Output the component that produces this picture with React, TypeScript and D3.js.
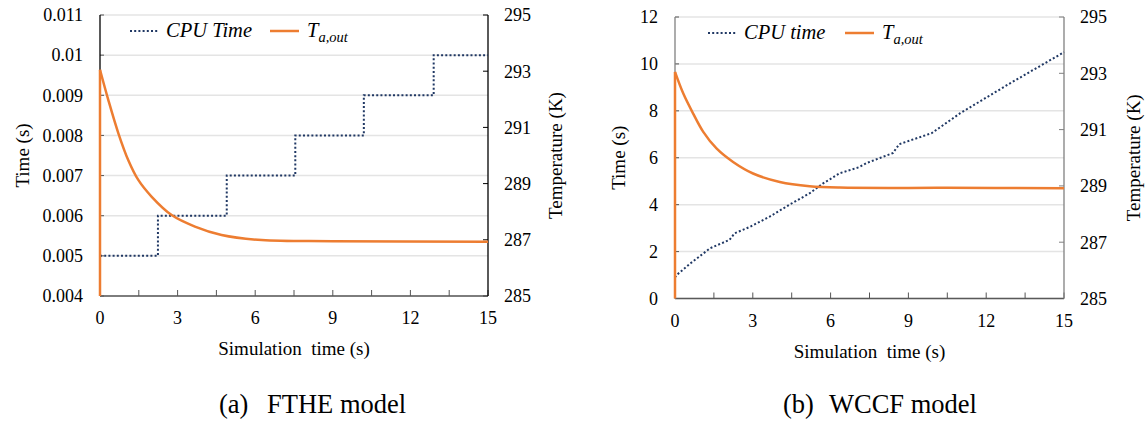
import React from "react";
import * as d3 from "d3";

const W = 1146;
const H = 427;
const tf = { fontFamily: "'Liberation Serif'" };

const orange = "#ED7D31";
const navy = "#203864";
const grid = "#e4e4e4";

// x axis: simulation time (s)
const xTicksMinor = [0, 1.5, 3, 4.5, 6, 7.5, 9, 10.5, 12, 13.5, 15];
const xTickLabels = [0, 3, 6, 9, 12, 15];
const tempTicks = [285, 287, 289, 291, 293, 295];

// (a) FTHE model
const ftheTimeTicks = [0.004, 0.005, 0.006, 0.007, 0.008, 0.009, 0.01, 0.011];
const ftheCpuT = [0, 2.24, 4.9, 7.55, 10.2, 12.9, 15];
const ftheCpuV = [0.005, 0.006, 0.007, 0.008, 0.009, 0.01, 0.01];
const ftheTempT = [0, 0.32, 0.71, 1.09, 1.48, 2.0, 2.77, 3.67, 4.7, 6.25, 9, 15];
const ftheTempV = [293.05, 291.98, 290.79, 289.84, 289.13, 288.53, 287.88, 287.47, 287.17, 286.99, 286.95, 286.93];

// (b) WCCF model
const wccfTimeTicks = [0, 2, 4, 6, 8, 10, 12];
const wccfCpuT = [0, 0.06, 0.6, 1.35, 2.1, 2.3, 2.9, 3.65, 4.4, 5.2, 5.7, 6.35, 7.1, 7.4, 8.4, 8.65, 9.9, 11.0, 12.9, 15];
const wccfCpuV = [0.9, 1.0, 1.5, 2.14, 2.5, 2.78, 3.06, 3.49, 3.99, 4.49, 4.9, 5.34, 5.6, 5.78, 6.2, 6.58, 7.05, 7.9, 9.16, 10.5];
const wccfTempT = [0, 0.32, 0.7, 1.09, 1.6, 2.24, 3.01, 4.04, 5.19, 6.35, 10.5, 15];
const wccfTempV = [293.05, 292.28, 291.57, 290.92, 290.33, 289.85, 289.44, 289.14, 288.99, 288.94, 288.93, 288.92];

type PanelProps = {
  left: number; right: number; top: number; bottom: number;
  leftDomain: [number, number]; leftTicks: number[];
  leftAxisColor: string; rightAxisColor: string;
  cpuT: number[]; cpuV: number[]; step: boolean;
  tempT: number[]; tempV: number[];
  cpuLabel: string;
  leftLabelX: number; leftTickX: number; rightTickX: number; rightLabelX: number;
  legX: number; legY: number; legOrangeX: number;
  captionTag: string; captionText: string; tagX: number; textX: number;
};

const Panel = (p: PanelProps) => {
  const x = d3.scaleLinear().domain([0, 15]).range([p.left, p.right]);
  const yL = d3.scaleLinear().domain(p.leftDomain).range([p.bottom, p.top]);
  const yR = d3.scaleLinear().domain([285, 295]).range([p.bottom, p.top]);

  const cpuLine = d3.line<number>()
    .x((_, i) => x(p.cpuT[i]))
    .y((v) => yL(v))
    .curve(p.step ? d3.curveStepAfter : d3.curveLinear);

  const tempLine = d3.line<number>()
    .x((_, i) => x(p.tempT[i]))
    .y((v) => yR(v))
    .curve(d3.curveCatmullRom.alpha(0.5));

  const rise = d3.line<number>().x(() => x(0)).y((v) => yR(v));
  const midY = (p.top + p.bottom) / 2;

  return (
    <g>
      {p.leftTicks.map((t) => (
        <g key={t}>
          <line x1={p.left} x2={p.right} y1={yL(t)} y2={yL(t)} stroke={grid} strokeWidth={1.5} />
          <line x1={p.left} x2={p.left + 4} y1={yL(t)} y2={yL(t)} stroke="#555" strokeWidth={1} />
          <text x={p.leftTickX} y={yL(t)} dy="0.35em" textAnchor="end" fontSize={18} style={tf}>{t}</text>
        </g>
      ))}
      {tempTicks.map((t) => (
        <g key={t}>
          <line x1={p.right - 5} x2={p.right} y1={yR(t)} y2={yR(t)} stroke={p.rightAxisColor} strokeWidth={1} />
          <text x={p.rightTickX} y={yR(t)} dy="0.35em" fontSize={18} style={tf}>{t}</text>
        </g>
      ))}
      {xTicksMinor.map((t) => (
        <line key={t} x1={x(t)} x2={x(t)} y1={p.bottom} y2={p.bottom - 6} stroke="#555" strokeWidth={1} />
      ))}
      {xTickLabels.map((t) => (
        <text key={t} x={x(t)} y={p.bottom + 28} textAnchor="middle" fontSize={18} style={tf}>{t}</text>
      ))}
      <line x1={p.left} x2={p.right} y1={p.bottom} y2={p.bottom} stroke="#595959" strokeWidth={1.5} />
      <line x1={p.left} x2={p.left} y1={p.top} y2={p.bottom} stroke={p.leftAxisColor} strokeWidth={1.3} />
      <line x1={p.right} x2={p.right} y1={p.top} y2={p.bottom} stroke={p.rightAxisColor} strokeWidth={1.3} />

      <path d={cpuLine(p.cpuV) ?? ""} fill="none" stroke={navy} strokeWidth={2} strokeDasharray="2 2.2" />
      <path d={rise([285, p.tempV[0]]) ?? ""} fill="none" stroke={orange} strokeWidth={2.5} />
      <path d={tempLine(p.tempV) ?? ""} fill="none" stroke={orange} strokeWidth={2.5} />

      {/* legend */}
      <line x1={p.legX} x2={p.legX + 28} y1={p.legY} y2={p.legY} stroke={navy} strokeWidth={2} strokeDasharray="2 2.2" />
      <text x={p.legX + 36} y={p.legY + 6} fontSize={20.5} fontStyle="italic" style={tf}>{p.cpuLabel}</text>
      <line x1={p.legOrangeX} x2={p.legOrangeX + 29} y1={p.legY} y2={p.legY} stroke={orange} strokeWidth={2.5} />
      <text x={p.legOrangeX + 37} y={p.legY + 6} fontSize={20.5} fontStyle="italic" style={tf}>
        T<tspan dy={5} fontSize={14.5}>a,out</tspan>
      </text>

      {/* axis titles */}
      <text transform={`translate(${p.leftLabelX},${midY}) rotate(-90)`} textAnchor="middle" fontSize={19} style={tf}>Time (s)</text>
      <text transform={`translate(${p.rightLabelX},${midY}) rotate(-90)`} textAnchor="middle" fontSize={19} style={tf}>Temperature (K)</text>
      <text x={(p.left + p.right) / 2} y={p.bottom + 59} textAnchor="middle" fontSize={19} style={{ ...tf, whiteSpace: "pre" }}>Simulation  time (s)</text>

      <text x={p.tagX} y={413} fontSize={26.5} style={tf}>{p.captionTag}</text>
      <text x={p.textX} y={413} fontSize={26.5} style={tf}>{p.captionText}</text>
    </g>
  );
};

export default function App() {
  return (
    <svg width={W} height={H} style={{ position: "absolute", left: 0, top: 0, background: "#fff" }}>
      <rect width={W} height={H} fill="#fff" />
      <Panel
        left={100} right={488} top={15} bottom={296}
        leftDomain={[0.004, 0.011]} leftTicks={ftheTimeTicks}
        leftAxisColor="#000" rightAxisColor="#000"
        cpuT={ftheCpuT} cpuV={ftheCpuV} step={true}
        tempT={ftheTempT} tempV={ftheTempV}
        cpuLabel="CPU Time"
        leftLabelX={29} leftTickX={83} rightTickX={504} rightLabelX={562}
        legX={130} legY={31} legOrangeX={270}
        captionTag="(a)" captionText="FTHE model" tagX={219} textX={267}
      />
      <Panel
        left={675} right={1064} top={17} bottom={298.5}
        leftDomain={[0, 12]} leftTicks={wccfTimeTicks}
        leftAxisColor="#808080" rightAxisColor="#808080"
        cpuT={wccfCpuT} cpuV={wccfCpuV} step={false}
        tempT={wccfTempT} tempV={wccfTempV}
        cpuLabel="CPU time"
        leftLabelX={625} leftTickX={658} rightTickX={1080} rightLabelX={1140}
        legX={708} legY={33} legOrangeX={845}
        captionTag="(b)" captionText="WCCF model" tagX={783} textX={829}
      />
    </svg>
  );
}
